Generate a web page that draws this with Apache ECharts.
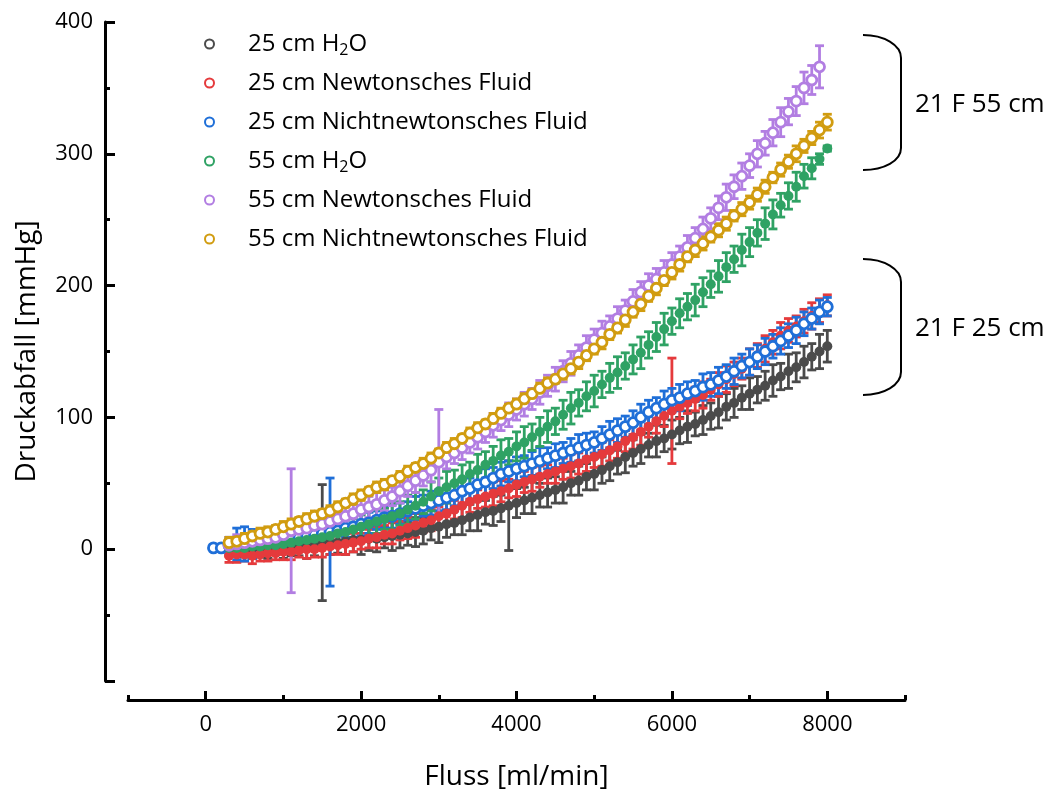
<!DOCTYPE html>
<html>
<head>
<meta charset="utf-8">
<script src="https://cdn.jsdelivr.net/npm/echarts@6/dist/echarts.min.js"></script>
<style>
  html, body { margin: 0; padding: 0; background: #ffffff; }
  #chart { width: 1052px; height: 792px; }
</style>
</head>
<body>
<div id="chart"></div>
<script>
// Flow rate steps [ml/min]
const flow = [
  100, 200, 300, 400, 500, 600, 700, 800, 900, 1000,
  1100, 1200, 1300, 1400, 1500, 1600, 1700, 1800, 1900, 2000,
  2100, 2200, 2300, 2400, 2500, 2600, 2700, 2800, 2900, 3000,
  3100, 3200, 3300, 3400, 3500, 3600, 3700, 3800, 3900, 4000,
  4100, 4200, 4300, 4400, 4500, 4600, 4700, 4800, 4900, 5000,
  5100, 5200, 5300, 5400, 5500, 5600, 5700, 5800, 5900, 6000,
  6100, 6200, 6300, 6400, 6500, 6600, 6700, 6800, 6900, 7000,
  7100, 7200, 7300, 7400, 7500, 7600, 7700, 7800, 7900, 8000
];

// Pressure drop [mmHg], mean and standard deviation per flow step
const h2o25 = [
  null, null, 1, 0, 0, 1, 1, 1, 2, 2,
  2, 3, 3, 4, 5, 5, 5, 6, 7, 7,
  8, 8, 9, 10, 11, 12, 13, 14, 16, 17,
  19, 20, 22, 24, 26, 28, 29, 31, 33, 35,
  37, 39, 41, 43, 45, 47, 50, 52, 55, 57,
  60, 63, 66, 70, 73, 76, 79, 82, 84, 87,
  90, 93, 95, 98, 101, 104, 108, 111, 115, 118,
  121, 124, 128, 131, 135, 138, 142, 146, 150, 154
];
const h2o25Sd = [
  null, null, 6, 5, 6, 8, 7, 8, 6, 9,
  7, 8, 10, 9, 44, 9, 8, 10, 9, 11,
  9, 10, 8, 11, 10, 9, 11, 10, 9, 12,
  10, 9, 11, 10, 12, 9, 11, 10, 34, 11,
  10, 12, 9, 11, 10, 12, 9, 11, 10, 12,
  10, 11, 9, 12, 10, 11, 9, 12, 10, 11,
  10, 12, 9, 11, 10, 12, 10, 11, 9, 12,
  10, 11, 12, 10, 13, 11, 12, 10, 13, 12
];

const newton25 = [
  null, null, -5, -4, -4, -5, -4, -3, -3, -2,
  -2, -1, 0, 0, 1, 2, 3, 4, 5, 6,
  8, 9, 11, 12, 14, 16, 18, 20, 22, 25,
  27, 30, 33, 36, 38, 40, 42, 44, 46, 49,
  51, 53, 55, 57, 59, 61, 63, 65, 68, 70,
  72, 75, 78, 82, 85, 89, 93, 97, 101, 105,
  108, 111, 114, 117, 121, 125, 129, 133, 137, 142,
  147, 152, 157, 162, 166, 169, 173, 177, 181, 185
];
const newton25Sd = [
  null, null, 5, 6, 5, 6, 5, 6, 5, 6,
  6, 5, 7, 6, 7, 6, 7, 8, 7, 6,
  7, 8, 7, 8, 7, 8, 9, 7, 8, 7,
  8, 7, 9, 8, 7, 8, 9, 8, 7, 9,
  8, 9, 8, 7, 9, 8, 9, 8, 9, 8,
  9, 8, 9, 8, 9, 10, 8, 9, 8, 40,
  9, 8, 9, 10, 8, 9, 10, 9, 8, 10,
  9, 10, 9, 10, 9, 8, 9, 10, 9, 8
];

const nonNewton25 = [
  1, 1, 3, 4, 4, 4, 5, 5, 6, 7,
  8, 9, 10, 11, 12, 13, 14, 16, 17, 19,
  20, 22, 24, 25, 27, 29, 31, 33, 35, 37,
  39, 41, 44, 46, 49, 51, 54, 57, 59, 61,
  63, 65, 67, 69, 71, 73, 75, 77, 79, 81,
  84, 87, 90, 93, 96, 100, 104, 107, 110, 113,
  115, 118, 120, 123, 125, 128, 131, 135, 139, 142,
  146, 150, 154, 158, 162, 166, 171, 175, 180, 184
];
const nonNewton25Sd = [
  null, null, 6, 12, 13, 11, 9, 8, 7, 8,
  7, 8, 7, 8, 7, 41, 8, 7, 8, 9,
  8, 7, 8, 9, 8, 7, 9, 8, 9, 8,
  9, 8, 9, 8, 9, 10, 8, 9, 8, 9,
  8, 9, 10, 8, 9, 8, 9, 10, 9, 8,
  9, 10, 9, 8, 9, 10, 9, 8, 10, 9,
  10, 9, 8, 10, 9, 10, 9, 10, 9, 10,
  9, 10, 9, 10, 9, 10, 9, 8, 9, 7
];

const h2o55 = [
  null, null, 1, 1, 1, 2, 2, 3, 3, 4,
  5, 6, 7, 8, 9, 10, 12, 13, 15, 17,
  19, 21, 23, 25, 27, 30, 33, 36, 40, 44,
  47, 50, 53, 57, 60, 64, 67, 71, 74, 78,
  81, 85, 89, 93, 97, 102, 107, 111, 116, 120,
  125, 130, 134, 139, 144, 149, 155, 161, 167, 173,
  179, 184, 189, 195, 201, 207, 214, 220, 227, 233,
  240, 247, 254, 261, 268, 275, 283, 289, 296, 304
];
const h2o55Sd = [
  null, null, 4, 5, 4, 5, 6, 5, 6, 5,
  6, 7, 6, 7, 8, 7, 8, 9, 8, 9,
  10, 9, 8, 10, 9, 11, 10, 9, 11, 10,
  12, 10, 11, 9, 12, 10, 11, 12, 10, 11,
  12, 10, 11, 12, 10, 11, 12, 10, 11, 12,
  10, 11, 12, 10, 11, 12, 10, 11, 12, 10,
  11, 10, 12, 11, 10, 12, 11, 10, 12, 11,
  10, 12, 11, 9, 10, 11, 9, 8, 4, 2
];

const newton55 = [
  null, null, 3, 4, 5, 6, 7, 8, 9, 11,
  14, 15, 16, 18, 19, 21, 23, 25, 27, 30,
  32, 34, 37, 40, 44, 48, 52, 56, 60, 66,
  70, 73, 77, 81, 85, 89, 94, 98, 102, 106,
  110, 114, 119, 124, 129, 135, 141, 147, 153, 159,
  164, 169, 175, 181, 188, 195, 200, 205, 210, 216,
  222, 229, 236, 243, 251, 259, 267, 275, 283, 291,
  300, 308, 316, 324, 332, 340, 350, 356, 366, null
];
const newton55Sd = [
  null, null, 6, 7, 6, 7, 8, 7, 8, 7,
  47, 8, 7, 8, 7, 8, 9, 8, 7, 8,
  8, 9, 8, 7, 9, 8, 9, 8, 9, 40,
  9, 8, 9, 8, 9, 8, 9, 8, 9, 8,
  9, 8, 9, 8, 9, 8, 9, 8, 9, 8,
  9, 8, 9, 8, 9, 8, 9, 8, 9, 9,
  8, 9, 8, 9, 8, 9, 10, 9, 10, 9,
  10, 9, 10, 11, 10, 11, 12, 11, 16, null
];

const nonNewton55 = [
  null, null, 5, 6, 8, 10, 12, 13, 15, 17,
  19, 21, 23, 25, 27, 29, 32, 35, 38, 41,
  44, 47, 49, 52, 55, 59, 62, 65, 69, 73,
  77, 80, 84, 88, 92, 95, 99, 103, 107, 110,
  114, 118, 122, 126, 129, 133, 137, 142, 147, 152,
  157, 163, 168, 174, 180, 186, 192, 198, 204, 210,
  216, 222, 227, 232, 237, 242, 247, 253, 258, 263,
  269, 275, 282, 288, 294, 300, 306, 312, 318, 324
];
const nonNewton55Sd = [
  null, null, 4, 3, 4, 3, 4, 4, 3, 4,
  4, 3, 4, 4, 3, 4, 4, 3, 4, 4,
  3, 4, 4, 3, 4, 4, 3, 4, 4, 3,
  4, 4, 3, 4, 4, 3, 4, 4, 3, 4,
  4, 3, 4, 4, 3, 4, 4, 5, 4, 4,
  5, 4, 4, 5, 4, 5, 4, 5, 4, 5,
  5, 4, 5, 5, 4, 5, 5, 4, 5, 5,
  5, 5, 4, 5, 5, 6, 5, 5, 6, 6
];

// Axis ticks and labels
const xMajorTicks = [0, 2000, 4000, 6000, 8000];
const xMinorTicks = [-1000, 1000, 3000, 5000, 7000, 9000];
const yLabelTicks = [0, 100, 200, 300, 400];

const FONT = 'Open Sans';

const groups = [
  { name: '25 cm H2O', color: '#4b4b4b', mean: h2o25, sd: h2o25Sd, filled: true },
  { name: '25 cm Newtonsches Fluid', color: '#e53a3c', mean: newton25, sd: newton25Sd, filled: true },
  { name: '25 cm Nichtnewtonsches Fluid', color: '#1f6fd8', mean: nonNewton25, sd: nonNewton25Sd, filled: false },
  { name: '55 cm H2O', color: '#2fa264', mean: h2o55, sd: h2o55Sd, filled: true },
  { name: '55 cm Newtonsches Fluid', color: '#b27ee2', mean: newton55, sd: newton55Sd, filled: false },
  { name: '55 cm Nichtnewtonsches Fluid', color: '#d19c10', mean: nonNewton55, sd: nonNewton55Sd, filled: false }
];

// Vertical SD whiskers with caps, drawn beneath each group's markers
function errorBars(g) {
  const data = [];
  flow.forEach((x, i) => {
    if (g.mean[i] != null && g.sd[i] != null) data.push([x, g.mean[i], g.sd[i]]);
  });
  return {
    type: 'custom',
    name: g.name + ' SD',
    silent: true,
    data: data,
    encode: { x: 0, y: 1 },
    renderItem: function (params, api) {
      const x = api.value(0), y = api.value(1), e = api.value(2);
      const hi = api.coord([x, y + e]);
      const lo = api.coord([x, y - e]);
      const cap = 4.5;
      const style = { stroke: g.color, lineWidth: 2.8, fill: null };
      return {
        type: 'group',
        children: [
          { type: 'line', shape: { x1: hi[0], y1: hi[1], x2: lo[0], y2: lo[1] }, style: style },
          { type: 'line', shape: { x1: hi[0] - cap, y1: hi[1], x2: hi[0] + cap, y2: hi[1] }, style: style },
          { type: 'line', shape: { x1: lo[0] - cap, y1: lo[1], x2: lo[0] + cap, y2: lo[1] }, style: style }
        ]
      };
    }
  };
}

function points(g) {
  const data = [];
  flow.forEach((x, i) => { if (g.mean[i] != null) data.push([x, g.mean[i]]); });
  return {
    type: 'scatter',
    name: g.name,
    data: data,
    symbol: 'circle',
    symbolSize: 10,
    itemStyle: g.filled
      ? { color: g.color, opacity: 1 }
      : { color: '#ffffff', borderColor: g.color, borderWidth: 2.8, opacity: 1 }
  };
}

const series = [];
groups.forEach(g => { series.push(errorBars(g)); series.push(points(g)); });

const axisLineStyle = { color: '#000', width: 3 };
const plainNumber = v => String(v);

const chart = echarts.init(document.getElementById('chart'), null, { renderer: 'canvas' });
chart.setOption({
  animation: false,
  backgroundColor: '#ffffff',
  textStyle: { fontFamily: FONT },
  grid: { left: 128, right: 147, top: 22, bottom: 111, containLabel: false, outerBoundsMode: 'none' },
  legend: {
    orient: 'vertical',
    left: 199,
    top: 25,
    itemWidth: 9,
    itemHeight: 9,
    itemGap: 11,
    selectedMode: false,
    data: groups.map(g => ({
      name: g.name,
      icon: 'circle',
      itemStyle: { color: '#ffffff', borderColor: g.color, borderWidth: 2 }
    })),
    formatter: function (name) {
      return '{gap| }' + name.replace('H2O', 'H{sub|2}O');
    },
    textStyle: {
      fontFamily: FONT,
      fontSize: 24,
      lineHeight: 28,
      color: '#000',
      rich: {
        gap: { width: 29, fontSize: 24 },
        sub: { fontSize: 16, fontFamily: FONT, verticalAlign: 'bottom', lineHeight: 16, color: '#000' }
      }
    }
  },
  xAxis: [
    {
      type: 'value',
      min: -1000,
      max: 9000,
      offset: 19,
      position: 'bottom',
      name: 'Fluss [ml/min]',
      nameLocation: 'middle',
      nameGap: 63,
      nameTextStyle: { fontFamily: FONT, fontSize: 28, color: '#000' },
      axisLine: { show: true, onZero: false, lineStyle: axisLineStyle },
      axisTick: { show: true, inside: true, length: 9, customValues: xMajorTicks, lineStyle: { color: '#000', width: 3 } },
      axisLabel: { show: true, customValues: xMajorTicks, formatter: plainNumber, margin: 14, fontFamily: FONT, fontSize: 22, color: '#000' },
      splitLine: { show: false }
    },
    {
      type: 'value',
      min: -1000,
      max: 9000,
      offset: 19,
      position: 'bottom',
      axisLine: { show: false, onZero: false },
      axisTick: { show: true, inside: true, length: 5, customValues: xMinorTicks, lineStyle: { color: '#000', width: 3 } },
      axisLabel: { show: false },
      splitLine: { show: false }
    }
  ],
  yAxis: {
    type: 'value',
    min: -100,
    max: 400,
    interval: 100,
    offset: 23,
    name: 'Druckabfall [mmHg]',
    nameLocation: 'middle',
    nameGap: 64,
    nameRotate: 90,
    nameTextStyle: { fontFamily: FONT, fontSize: 28, color: '#000' },
    axisLine: { show: true, onZero: false, lineStyle: axisLineStyle },
    axisTick: { show: true, inside: true, length: 10, lineStyle: { color: '#000', width: 3 } },
    minorTick: { show: true, splitNumber: 2, length: 5, lineStyle: { color: '#000', width: 3 } },
    axisLabel: { customValues: yLabelTicks, formatter: plainNumber, margin: 12, fontFamily: FONT, fontSize: 22, color: '#000' },
    splitLine: { show: false },
    minorSplitLine: { show: false }
  },
  series: series,
  // Brackets grouping the two catheter lengths, with their captions
  graphic: [
    { type: 'bezierCurve', shape: { x1: 863, y1: 35, cpx1: 884, cpy1: 35, cpx2: 901, cpy2: 45, x2: 901, y2: 58 }, style: { stroke: '#000', lineWidth: 2, fill: null } },
    { type: 'line', shape: { x1: 901, y1: 58, x2: 901, y2: 148 }, style: { stroke: '#000', lineWidth: 2 } },
    { type: 'bezierCurve', shape: { x1: 901, y1: 148, cpx1: 901, cpy1: 161, cpx2: 884, cpy2: 170, x2: 863, y2: 170 }, style: { stroke: '#000', lineWidth: 2, fill: null } },
    { type: 'text', x: 915, y: 105, style: { text: '21 F 55 cm', fontFamily: FONT, fontSize: 26, fill: '#000', verticalAlign: 'middle', align: 'left' } },
    { type: 'bezierCurve', shape: { x1: 863, y1: 259, cpx1: 884, cpy1: 259, cpx2: 901, cpy2: 269, x2: 901, y2: 282 }, style: { stroke: '#000', lineWidth: 2, fill: null } },
    { type: 'line', shape: { x1: 901, y1: 282, x2: 901, y2: 372 }, style: { stroke: '#000', lineWidth: 2 } },
    { type: 'bezierCurve', shape: { x1: 901, y1: 372, cpx1: 901, cpy1: 385, cpx2: 884, cpy2: 395, x2: 863, y2: 395 }, style: { stroke: '#000', lineWidth: 2, fill: null } },
    { type: 'text', x: 915, y: 329, style: { text: '21 F 25 cm', fontFamily: FONT, fontSize: 26, fill: '#000', verticalAlign: 'middle', align: 'left' } }
  ]
});
</script>
</body>
</html>
